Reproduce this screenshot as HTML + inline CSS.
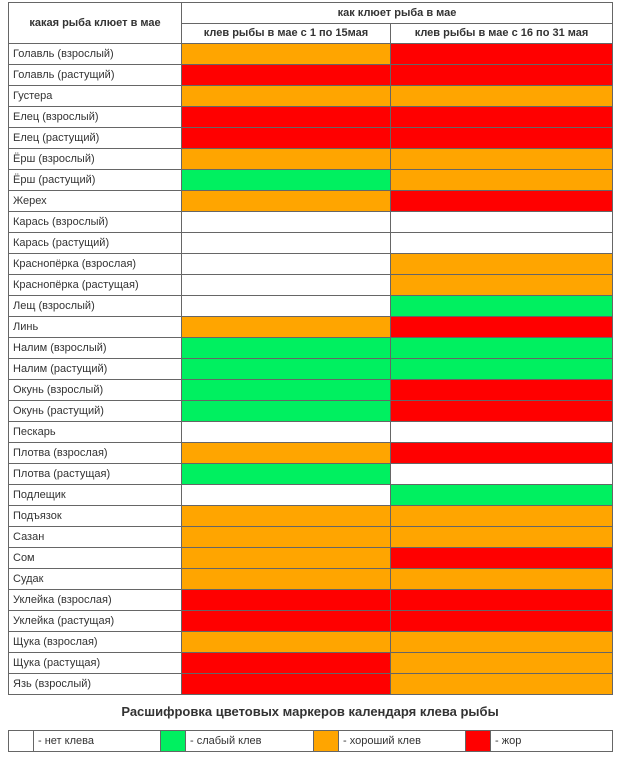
<!DOCTYPE html>
<html><head><meta charset="utf-8"><style>
body{margin:0;width:620px;height:759px;background:#fff;font-family:"Liberation Sans","Noto Sans CJK SC",sans-serif;position:relative;overflow:hidden}
.c{position:absolute;box-sizing:border-box;border:1px solid #666;font-size:11px;color:#333;line-height:20px;padding-left:4px;white-space:nowrap}
.h{font-weight:bold;text-align:center;padding:0;color:#333}
.O{background:#FFA500}.R{background:#FF0000}.G{background:#00F060}.W{background:#fff}
.t{position:absolute;font-weight:bold;font-size:13px;color:#333;width:620px;text-align:center;top:704px}
</style></head><body>
<div class="c h" style="left:8px;top:2px;width:174px;height:42px;line-height:40px">какая рыба клюет в мае</div>
<div class="c h" style="left:181px;top:2px;width:432px;height:22px">как клюет рыба в мае</div>
<div class="c h" style="left:181px;top:23px;width:210px;height:21px;line-height:19px">клев рыбы в мае с 1 по 15мая</div>
<div class="c h" style="left:390px;top:23px;width:223px;height:21px;line-height:19px">клев рыбы в мае с 16 по 31 мая</div>
<div id="rows"></div>
<div class="t">Расшифровка цветовых маркеров календаря клева рыбы</div>
<div class="c W" style="left:8px;top:730px;width:26px;height:22px"></div>
<div class="c" style="left:33px;top:730px;width:128px;height:22px">- нет клева</div>
<div class="c G" style="left:160px;top:730px;width:26px;height:22px"></div>
<div class="c" style="left:185px;top:730px;width:129px;height:22px">- слабый клев</div>
<div class="c O" style="left:313px;top:730px;width:26px;height:22px"></div>
<div class="c" style="left:338px;top:730px;width:128px;height:22px">- хороший клев</div>
<div class="c R" style="left:465px;top:730px;width:26px;height:22px"></div>
<div class="c" style="left:490px;top:730px;width:123px;height:22px">- жор</div>
<script>
var d=[["Голавль (взрослый)","O","R"],["Голавль (растущий)","R","R"],["Густера","O","O"],["Елец (взрослый)","R","R"],["Елец (растущий)","R","R"],["Ёрш (взрослый)","O","O"],["Ёрш (растущий)","G","O"],["Жерех","O","R"],["Карась (взрослый)","W","W"],["Карась (растущий)","W","W"],["Краснопёрка (взрослая)","W","O"],["Краснопёрка (растущая)","W","O"],["Лещ (взрослый)","W","G"],["Линь","O","R"],["Налим (взрослый)","G","G"],["Налим (растущий)","G","G"],["Окунь (взрослый)","G","R"],["Окунь (растущий)","G","R"],["Пескарь","W","W"],["Плотва (взрослая)","O","R"],["Плотва (растущая)","G","W"],["Подлещик","W","G"],["Подъязок","O","O"],["Сазан","O","O"],["Сом","O","R"],["Судак","O","O"],["Уклейка (взрослая)","R","R"],["Уклейка (растущая)","R","R"],["Щука (взрослая)","O","O"],["Щука (растущая)","R","O"],["Язь (взрослый)","R","O"]];
var h="";
d.forEach(function(r,i){var y=43+i*21;
h+='<div class="c" style="left:8px;top:'+y+'px;width:174px;height:22px">'+r[0]+'</div>';
h+='<div class="c '+r[1]+'" style="left:181px;top:'+y+'px;width:210px;height:22px"></div>';
h+='<div class="c '+r[2]+'" style="left:390px;top:'+y+'px;width:223px;height:22px"></div>';});
document.getElementById("rows").innerHTML=h;
</script>
</body></html>
